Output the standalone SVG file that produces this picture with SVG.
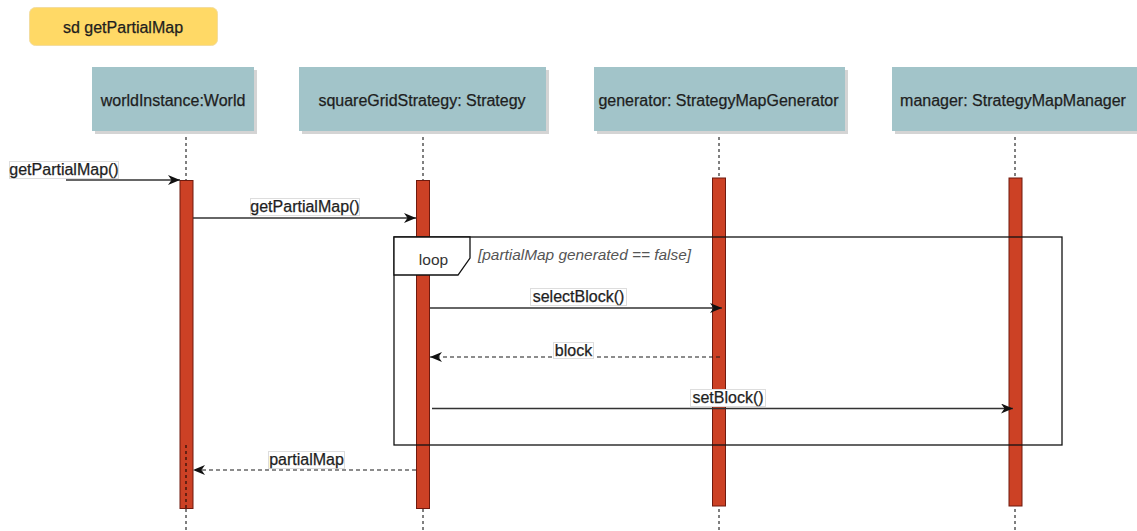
<svg xmlns="http://www.w3.org/2000/svg" width="1137" height="531" viewBox="0 0 1137 531">
  <style>
    text { font-family: "Liberation Sans", Arial, sans-serif; fill: #1E1E1E; stroke: #1E1E1E; stroke-width: 0.25; }
    .head { fill: #A2C4C9; }
    .shadow { fill: #D4D4D4; }
    .head-text { font-size: 16px; text-anchor: middle; }
    .life { stroke: #000; stroke-width: 1; stroke-dasharray: 3 3; fill: none; }
    .act { fill: #CC4125; stroke: #6F1A0E; stroke-width: 1; }
    .msg { stroke: #333; stroke-width: 1.3; fill: none; }
    .ret { stroke: #1A1A1A; stroke-width: 1.2; stroke-dasharray: 4 3; fill: none; }
    .lbl-bg { fill: #fff; stroke: #DDD; stroke-width: 1; }
    .lbl { font-size: 16px; text-anchor: middle; }
    .frame { fill: none; stroke: #111; stroke-width: 1.3; }
    .tab { fill: #fff; stroke: #111; stroke-width: 1.3; }
    .tab-text { font-size: 15.5px; text-anchor: middle; fill: #333; stroke: none; }
    .guard { font-size: 15.4px; font-style: italic; fill: #555; stroke: none; }
  </style>
  <defs>
    <marker id="arrow" viewBox="0 0 12 10" refX="12" refY="5" markerWidth="12" markerHeight="10" markerUnits="userSpaceOnUse" orient="auto">
      <path d="M0,0 L12,5 L0,10 L3.5,5 z" fill="#111"/>
    </marker>
  </defs>

  <rect width="1137" height="531" fill="#fff"/>

  <!-- diagram title -->
  <g id="title">
    <rect x="29.5" y="7.5" width="188" height="38" rx="6" fill="#FFD966" stroke="#F3DDA0" stroke-width="1"/>
    <text x="123" y="32.5" font-size="16" text-anchor="middle">sd getPartialMap</text>
  </g>

  <!-- lifelines (dashed) -->
  <g id="lifelines">
    <line class="life" x1="186" y1="131" x2="186" y2="531"/>
    <line class="life" x1="423" y1="131" x2="423" y2="531"/>
    <line class="life" x1="719" y1="131" x2="719" y2="531"/>
    <line class="life" x1="1015" y1="131" x2="1015" y2="531"/>
  </g>

  <!-- participants -->
  <g id="worldInstance">
    <rect class="shadow" x="95" y="70" width="162" height="64"/>
    <rect class="head" x="92" y="67" width="162" height="64"/>
    <text class="head-text" x="173" y="105.5">worldInstance:World</text>
    <rect class="act" x="180" y="180.5" width="13" height="328"/>
  </g>
  <g id="squareGridStrategy">
    <rect class="shadow" x="302" y="70" width="247" height="64"/>
    <rect class="head" x="299" y="67" width="247" height="64"/>
    <text class="head-text" x="422" y="105.5">squareGridStrategy: Strategy</text>
    <rect class="act" x="416.5" y="180.5" width="13" height="328"/>
  </g>
  <g id="generator">
    <rect class="shadow" x="597" y="70" width="251" height="64"/>
    <rect class="head" x="594" y="67" width="251" height="64"/>
    <text class="head-text" x="718.5" y="105.5">generator: StrategyMapGenerator</text>
    <rect class="act" x="712.5" y="178" width="13" height="328"/>
  </g>
  <g id="manager">
    <rect class="shadow" x="895" y="70" width="245" height="64"/>
    <rect class="head" x="892" y="67" width="245" height="64"/>
    <text class="head-text" x="1013" y="105.5">manager: StrategyMapManager</text>
    <rect class="act" x="1009" y="178" width="13" height="328"/>
  </g>

  <!-- lifeline segment visible over the world activation -->
  <line class="life" x1="186" y1="445" x2="186" y2="508"/>

  <!-- combined fragment -->
  <g id="loop">
    <rect class="frame" x="394" y="237" width="668" height="208"/>
    <path class="tab" d="M394,237 H470 V258 L458,275 H394 Z"/>
    <text class="tab-text" x="433.5" y="264.5">loop</text>
    <text class="guard" x="478" y="260">[partialMap generated == false]</text>
  </g>

  <!-- messages -->
  <g id="connectors">
    <line class="msg" x1="66" y1="180" x2="180" y2="180" marker-end="url(#arrow)"/>
    <line class="msg" x1="193" y1="218" x2="416" y2="218" marker-end="url(#arrow)"/>
    <line class="msg" x1="430" y1="308" x2="722" y2="308" marker-end="url(#arrow)"/>
    <line class="ret" x1="720" y1="357" x2="430" y2="357" marker-end="url(#arrow)"/>
    <line class="msg" x1="432" y1="408.5" x2="1013" y2="408.5" marker-end="url(#arrow)"/>
    <line class="ret" x1="416" y1="470" x2="193" y2="470" marker-end="url(#arrow)"/>

    <rect class="lbl-bg" x="9.5" y="161.5" width="109" height="17"/>
    <text class="lbl" x="64" y="175">getPartialMap()</text>
    <rect class="lbl-bg" x="250.5" y="198.5" width="109" height="17"/>
    <text class="lbl" x="305" y="212">getPartialMap()</text>
    <rect class="lbl-bg" x="530.5" y="288.5" width="96" height="17"/>
    <text class="lbl" x="578.5" y="302">selectBlock()</text>
    <rect class="lbl-bg" x="553.5" y="342.5" width="40" height="16"/>
    <text class="lbl" x="573.5" y="355.5">block</text>
    <rect class="lbl-bg" x="690.5" y="389.5" width="75" height="17"/>
    <text class="lbl" x="728" y="403">setBlock()</text>
    <rect class="lbl-bg" x="268.5" y="451.5" width="76" height="17"/>
    <text class="lbl" x="306.5" y="465">partialMap</text>
  </g>
</svg>
